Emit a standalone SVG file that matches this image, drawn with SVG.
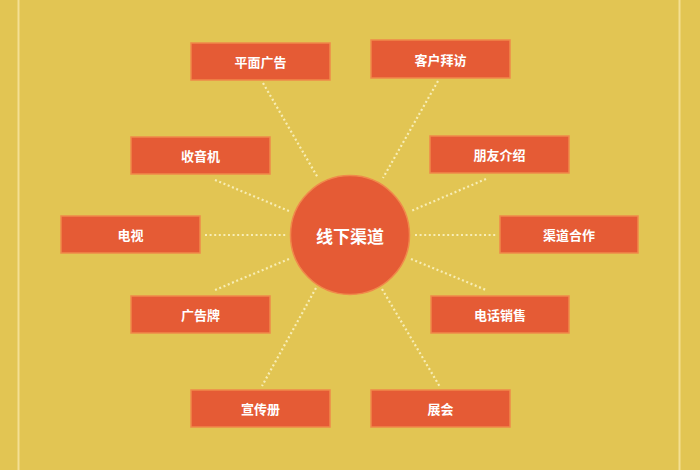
<svg xmlns="http://www.w3.org/2000/svg" width="700" height="470" viewBox="0 0 700 470">
<style>
.box{fill:#E55B35;stroke:#F0894A;stroke-width:1.5}
.lbl{font-family:"Noto Sans CJK SC","Noto Sans",sans-serif;font-size:13px;font-weight:bold;fill:#FFFFFF;text-anchor:middle;dominant-baseline:central}
.dot{stroke:#F7EDB5;stroke-width:2.2;stroke-dasharray:2 2.6;fill:none}
</style>
<rect x="0" y="0" width="700" height="470" fill="#E2C553"/>
<rect x="17.5" y="0" width="2" height="470" fill="#F4DF92"/>
<rect x="678.5" y="0" width="2" height="470" fill="#F4DF92"/>
<g id="connectors">
<line class="dot" x1="263" y1="83" x2="318" y2="178"/>
<line class="dot" x1="438" y1="81" x2="383" y2="178"/>
<line class="dot" x1="215" y1="180" x2="289" y2="211"/>
<line class="dot" x1="486" y1="179" x2="411" y2="211"/>
<line class="dot" x1="205" y1="235" x2="286" y2="235"/>
<line class="dot" x1="415" y1="235" x2="496" y2="235"/>
<line class="dot" x1="289" y1="259" x2="215" y2="290"/>
<line class="dot" x1="411" y1="259" x2="486" y2="290"/>
<line class="dot" x1="316" y1="288" x2="262" y2="386"/>
<line class="dot" x1="382" y1="289" x2="440" y2="387"/>
</g>
<g id="center">
<circle cx="350" cy="235" r="59.5" fill="#E55B35" stroke="#F0894A" stroke-width="1.5"/>
<text x="350" y="235" class="lbl" style="font-size:17px">线下渠道</text>
</g>
<g id="n1"><rect class="box" x="191" y="43" width="139" height="37"/><text class="lbl" x="260.5" y="61">平面广告</text></g>
<g id="n2"><rect class="box" x="371" y="40" width="139" height="38"/><text class="lbl" x="440.5" y="59">客户拜访</text></g>
<g id="n3"><rect class="box" x="131" y="137" width="139" height="37"/><text class="lbl" x="200.5" y="155.5">收音机</text></g>
<g id="n4"><rect class="box" x="430" y="136" width="139" height="37"/><text class="lbl" x="499.5" y="154.5">朋友介绍</text></g>
<g id="n5"><rect class="box" x="61" y="216" width="139" height="37"/><text class="lbl" x="130.5" y="234.5">电视</text></g>
<g id="n6"><rect class="box" x="500" y="216" width="138" height="37"/><text class="lbl" x="569" y="234.5">渠道合作</text></g>
<g id="n7"><rect class="box" x="131" y="296" width="139" height="37"/><text class="lbl" x="200.5" y="314.5">广告牌</text></g>
<g id="n8"><rect class="box" x="431" y="296" width="138" height="37"/><text class="lbl" x="500" y="314.5">电话销售</text></g>
<g id="n9"><rect class="box" x="191" y="390" width="139" height="37"/><text class="lbl" x="260.5" y="408.5">宣传册</text></g>
<g id="n10"><rect class="box" x="371" y="390" width="139" height="37"/><text class="lbl" x="440.5" y="408.5">展会</text></g>
</svg>
